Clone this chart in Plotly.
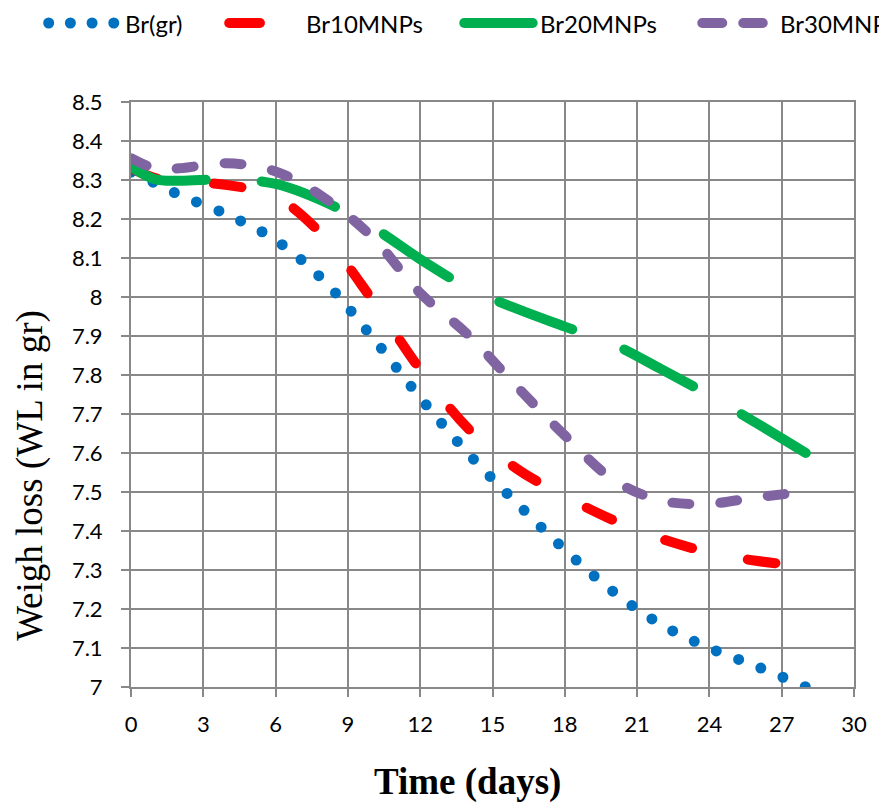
import plotly.graph_objects as go

# Storage time (days) and measured weight (g) for each treatment
days = [0, 1, 2, 4, 6, 8, 10, 12, 14, 16, 18, 20, 22, 24, 26, 28]
br_gr = [8.320, 8.292, 8.262, 8.211, 8.146, 8.042, 7.898, 7.742, 7.598,
         7.472, 7.352, 7.245, 7.160, 7.100, 7.052, 7.000]
br10mnps = [8.330, 8.305, 8.296, 8.287, 8.257, 8.155, 7.994, 7.814, 7.662,
            7.560, 7.489, 7.428, 7.380, 7.345, 7.323, 7.310]
br20mnps = [8.334, 8.302, 8.298, 8.302, 8.290, 8.245, 8.180, 8.097, 8.023,
            7.970, 7.924, 7.879, 7.815, 7.748, 7.675, 7.600]
br30mnps = [8.356, 8.330, 8.330, 8.343, 8.322, 8.255, 8.154, 8.010, 7.902,
            7.771, 7.645, 7.532, 7.478, 7.470, 7.487, 7.500]

names = ["Br(gr)", "Br10MNPs", "Br20MNPs", "Br30MNPs"]
series = [br_gr, br10mnps, br20mnps, br30mnps]
colors = ["#0070C0", "#FF0000", "#00B050", "#8064A2"]
widths = [11, 10, 10, 10]
dashes = ["0px,24px", "28px,57px", "78px,56px", "17px,31px"]

x_ticks = list(range(0, 31, 3))

W, H = 879, 803
ML, MR, MT, MB = 131, 19, 102, 116
PW, PH = W - ML - MR, H - MT - MB

GRID = "#888888"
TICK_FONT = dict(family="Lato", size=22, color="black")


def px_x(px):
    return (px - ML) / PW


def px_y(py):
    return (H - MB - py) / PH


fig = go.Figure()
for name, vals, col, w, d in zip(names, series, colors, widths, dashes):
    fig.add_trace(go.Scatter(
        x=days, y=vals, name=name, mode="lines",
        line=dict(color=col, width=w, dash=d, shape="spline", smoothing=1.0),
        showlegend=False, hoverinfo="skip",
    ))

# Legend row drawn above the plot area
leg_y = px_y(23)
legend_samples = [
    (48, 114.5, "0px,21.7px", 11),
    (230, 261, "solid", 10),
    (467, 536, "solid", 10),
    (707, 768, "20px,21px", 10),
]
legend_text_x = [123, 305, 541, 783]
shapes = []
annotations = []
for (x0, x1, d, w), col in zip(legend_samples, colors):
    shapes.append(dict(type="line", xref="paper", yref="paper",
                       x0=px_x(x0), x1=px_x(x1), y0=leg_y, y1=leg_y,
                       line=dict(color=col, width=w, dash=d)))
for tx, name in zip(legend_text_x, names):
    annotations.append(dict(text=name, xref="paper", yref="paper",
                            x=px_x(tx), y=leg_y, xanchor="left", yanchor="middle",
                            showarrow=False,
                            font=dict(family="Lato", size=24, color="black")))

# Axis titles
annotations.append(dict(text="<b>Time (days)</b>", xref="paper", yref="paper",
                        x=px_x(470), y=px_y(782), xanchor="center", yanchor="middle",
                        showarrow=False,
                        font=dict(family="Liberation Serif", size=37, color="black")))
annotations.append(dict(text="Weigh loss (WL in gr)", xref="paper", yref="paper",
                        x=px_x(29), y=px_y(475), xanchor="center", yanchor="middle",
                        textangle=-90, showarrow=False,
                        font=dict(family="Liberation Serif", size=37, color="black")))

fig.update_layout(
    width=W, height=H, autosize=False,
    margin=dict(l=ML, r=MR, t=MT, b=MB, pad=0),
    paper_bgcolor="white", plot_bgcolor="white",
    shapes=shapes, annotations=annotations,
    showlegend=False,
)
fig.update_xaxes(
    range=[0, 30], tickmode="array", tickvals=x_ticks,
    showgrid=True, gridcolor=GRID, gridwidth=1.5,
    showline=True, linecolor=GRID, linewidth=2, mirror=True,
    ticks="outside", ticklen=8, tickwidth=2, tickcolor=GRID,
    tickfont=TICK_FONT, ticklabelstandoff=9, zeroline=False,
)
fig.update_yaxes(
    range=[7, 8.5], tick0=7, dtick=0.1,
    showgrid=True, gridcolor=GRID, gridwidth=1.5,
    showline=True, linecolor=GRID, linewidth=2, mirror=True,
    ticks="outside", ticklen=8, tickwidth=2, tickcolor=GRID,
    tickfont=TICK_FONT, ticklabelstandoff=14, zeroline=False,
)

round_caps = """
var gd = document.getElementById('{plot_id}');
function roundCaps() {
  gd.querySelectorAll('path.js-line, .shapelayer path').forEach(function (p) {
    p.style.strokeLinecap = 'round';
  });
}
roundCaps();
gd.on('plotly_afterplot', roundCaps);
"""

fig.write_html("out.html", post_script=round_caps)
